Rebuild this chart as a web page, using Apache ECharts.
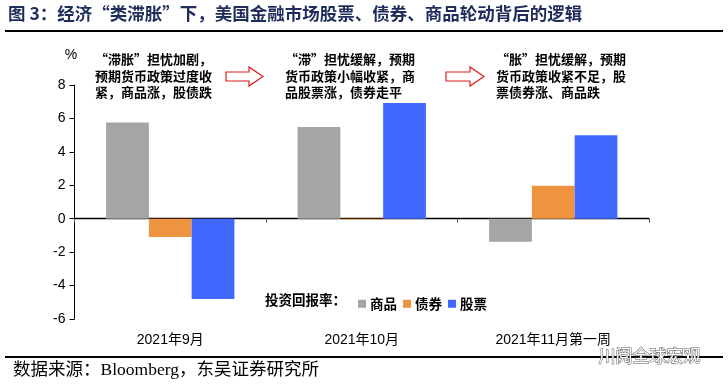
<!DOCTYPE html>
<html>
<head>
<meta charset="utf-8">
<script src="https://cdn.jsdelivr.net/npm/echarts@6/dist/echarts.min.js"></script>
<style>
html,body{margin:0;padding:0;background:#fff;}
#c{width:728px;height:387px;}
</style>
</head>
<body>
<div id="c"></div>
<script>
const categories = ['2021年9月', '2021年10月', '2021年11月第一周'];
const commodities = [5.76, 5.49, -1.38];
const bonds = [-1.1, -0.05, 1.97];
const stocks = [-4.8, 6.92, 5.0];
const seriesNames = ['商品', '债券', '股票'];
const yTicks = { min: -6, max: 8, interval: 2 };
const titleText = '图 3：经济“类滞胀”下，美国金融市场股票、债券、商品轮动背后的逻辑';
const notes = [
  ['“滞胀”担忧加剧，', '预期货币政策过度收', '紧，商品涨，股债跌'],
  ['“滞”担忧缓解，预期', '货币政策小幅收紧，商', '品股票涨，债券走平'],
  ['“胀”担忧缓解，预期', '货币政策收紧不足，股', '票债券涨、商品跌']
];
const legendTitle = '投资回报率：';
const sourceText = '数据来源：Bloomberg，东吴证券研究所';
const watermark = '川阅全球宏观';

const colors = ['#A5A5A5', '#EE9440', '#4168FF'];
const cjk = '"Noto Sans CJK SC", sans-serif';
const latin = '"Liberation Sans", Arial, "Noto Sans CJK SC", sans-serif';

const chart = echarts.init(document.getElementById('c'), null, { renderer: 'canvas' });

const noteX = [95, 285, 496];
const graphics = [];
// title
graphics.push({ type: 'text', left: 8, top: 5, style: { text: titleText, fill: '#1F2D5C', font: 'bold 17.5px ' + cjk } });
graphics.push({ type: 'rect', shape: { x: 5, y: 30, width: 718, height: 2 }, style: { fill: '#000' } });
// bottom rule
graphics.push({ type: 'rect', shape: { x: 5, y: 356, width: 718, height: 2 }, style: { fill: '#000' } });
graphics.push({ type: 'text', left: 13, top: 362, style: { text: sourceText, fill: '#000', font: '17.5px "Liberation Serif", "Noto Sans CJK SC", serif' } });
graphics.push({ type: 'text', left: 598, top: 347, z: 10, style: { text: watermark, fill: '#fff', stroke: '#555', lineWidth: 1, font: '17px ' + cjk } });
// % unit
graphics.push({ type: 'text', x: 71, y: 55, style: { text: '%', fill: '#000', font: '14px ' + latin, textAlign: 'center', textVerticalAlign: 'middle' } });
// notes
notes.forEach((lines, i) => {
  lines.forEach((ln, j) => {
    graphics.push({ type: 'text', x: noteX[i], y: 59.5 + j * 16.5, style: { text: ln, fill: '#000', font: 'bold 13px ' + cjk, textVerticalAlign: 'middle' } });
  });
});
// arrows
function arrow(x0, x1) {
  const hx = x1 - 14;
  return { type: 'polygon', shape: { points: [[x0, 72], [hx, 72], [hx, 67], [x1, 76.5], [hx, 86], [hx, 81], [x0, 81]] },
    style: { fill: '#fff', stroke: '#E31B1B', lineWidth: 1.2 } };
}
graphics.push(arrow(226, 263));
graphics.push(arrow(446, 484));
// legend title
graphics.push({ type: 'text', x: 265, y: 300, style: { text: legendTitle, fill: '#000', font: 'bold 13.5px ' + cjk, textVerticalAlign: 'middle' } });

const option = {
  animation: false,
  color: colors,
  grid: { left: 74.5, right: 79, top: 85, bottom: 68, containLabel: false },
  legend: {
    left: 353, top: 292, itemWidth: 8, itemHeight: 8, itemGap: 6, icon: 'rect',
    data: seriesNames,
    textStyle: { fontFamily: cjk, fontWeight: 'bold', fontSize: 13.5, color: '#000', padding: [0, 0, 0, -1] }
  },
  xAxis: [
    {
      type: 'category', data: categories,
      axisLine: { onZero: true, lineStyle: { color: '#000', width: 1.4 } },
      axisTick: { show: true, length: 4, alignWithLabel: false, lineStyle: { color: '#555' } },
      axisLabel: { show: false }
    },
    {
      type: 'category', data: categories, position: 'bottom',
      axisLine: { show: false, onZero: false }, axisTick: { show: false },
      axisLabel: { show: true, margin: 14, color: '#000', fontSize: 14, fontFamily: latin }
    }
  ],
  yAxis: {
    type: 'value', min: yTicks.min, max: yTicks.max, interval: yTicks.interval,
    axisLine: { show: true, lineStyle: { color: '#000', width: 1 } },
    axisTick: { show: true, length: 5, lineStyle: { color: '#000' } },
    splitLine: { show: false },
    axisLabel: { color: '#000', fontSize: 14, fontFamily: latin, margin: 9 }
  },
  series: [
    { name: seriesNames[0], type: 'bar', data: commodities, barGap: '0%', barCategoryGap: '33%' },
    { name: seriesNames[1], type: 'bar', data: bonds, barGap: '0%', barCategoryGap: '33%' },
    { name: seriesNames[2], type: 'bar', data: stocks, barGap: '0%', barCategoryGap: '33%' }
  ],
  graphic: graphics
};
chart.setOption(option);
</script>
</body>
</html>
